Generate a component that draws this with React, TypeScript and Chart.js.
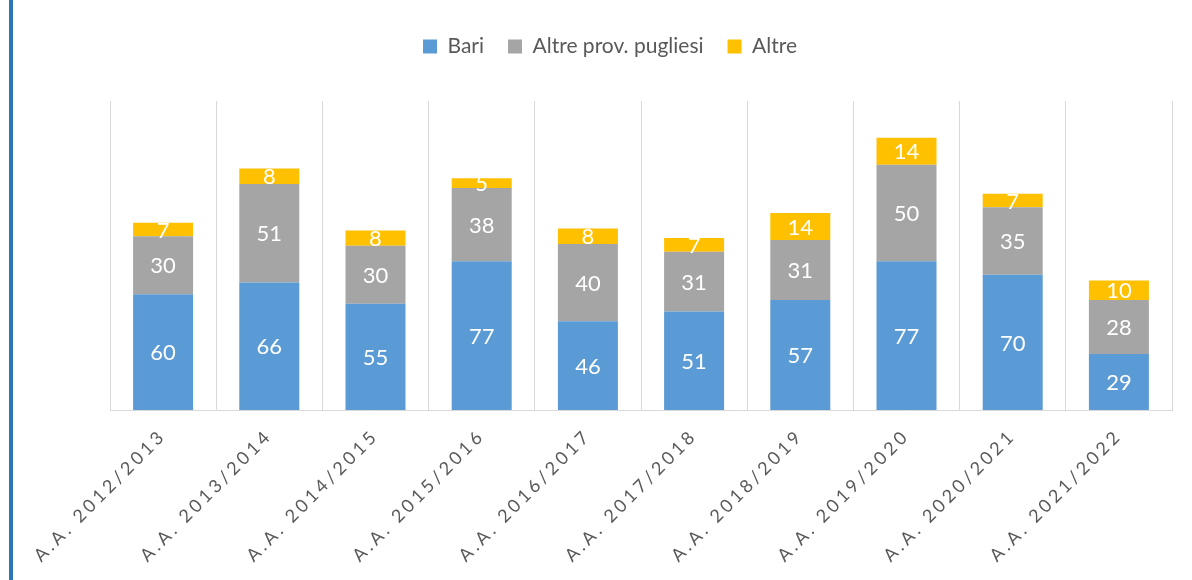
import React, { useEffect, useRef } from "react";
import { Chart, registerables, CategoryScale } from "chart.js";

Chart.register(...registerables);

class SpacedCategoryScale extends CategoryScale {
  static id = "spacedCategory";
  drawLabels(chartArea: any) {
    const ctx: any = this.ctx;
    ctx.save();
    ctx.letterSpacing = "3.5px";
    super.drawLabels(chartArea);
    ctx.restore();
  }
}
Chart.register(SpacedCategoryScale as any);

const categories = [
  "A.A. 2012/2013",
  "A.A. 2013/2014",
  "A.A. 2014/2015",
  "A.A. 2015/2016",
  "A.A. 2016/2017",
  "A.A. 2017/2018",
  "A.A. 2018/2019",
  "A.A. 2019/2020",
  "A.A. 2020/2021",
  "A.A. 2021/2022",
];
const bari = [60, 66, 55, 77, 46, 51, 57, 77, 70, 29];
const altreProvPugliesi = [30, 51, 30, 38, 40, 31, 31, 50, 35, 28];
const altre = [7, 8, 8, 5, 8, 7, 14, 14, 7, 10];
const seriesNames = ["Bari", "Altre prov. pugliesi", "Altre"];
const seriesColors = ["#5B9BD5", "#A5A5A5", "#FFC000"];

const FONT = "Lato, 'Open Sans', sans-serif";

const legendSpacer = {
  id: "legendSpacer",
  beforeInit(chart: any) {
    if (!chart.legend) return;
    const origFit = chart.legend.fit;
    chart.legend.fit = function () {
      origFit.bind(chart.legend)();
      this.height += 34;
    };
  },
  afterLayout(chart: any) {
    if (!chart.legend) return;
    chart.legend.left -= 31;
    chart.legend.right -= 31;
  },
};

const valueLabels = {
  id: "valueLabels",
  afterDatasetsDraw(chart: any) {
    const ctx = chart.ctx;
    ctx.save();
    ctx.font = `22px ${FONT}`;
    ctx.fillStyle = "#FFFFFF";
    ctx.textAlign = "center";
    ctx.textBaseline = "middle";
    chart.data.datasets.forEach((ds: any, di: number) => {
      const meta = chart.getDatasetMeta(di);
      meta.data.forEach((el: any, i: number) => {
        const { x, y, base } = el.getProps(["x", "y", "base"], true);
        ctx.fillText(String(ds.data[i]), x, (y + base) / 2 + 1);
      });
    });
    ctx.restore();
  },
};

export default function App() {
  const ref = useRef<HTMLCanvasElement | null>(null);
  useEffect(() => {
    document.body.style.margin = "0";
    const canvas = ref.current;
    if (!canvas) return;
    const chart = new Chart(canvas, {
      type: "bar",
      data: {
        labels: categories,
        datasets: [bari, altreProvPugliesi, altre].map((d, i) => ({
          label: seriesNames[i],
          data: d,
          backgroundColor: seriesColors[i],
          borderWidth: 0,
          categoryPercentage: 1,
          barPercentage: 0.565,
        })),
      },
      options: {
        responsive: false,
        animation: false,
        layout: { padding: { left: 110, right: 20, top: 12, bottom: 0 } },
        plugins: {
          legend: {
            position: "top",
            labels: {
              boxWidth: 14,
              boxHeight: 14,
              padding: 24,
              color: "#595959",
              font: { family: FONT, size: 21 },
            },
          },
          tooltip: { enabled: false },
        },
        scales: {
          x: {
            type: "spacedCategory" as any,
            stacked: true,
            offset: true,
            grid: {
              display: true,
              offset: true,
              color: "#D9D9D9",
              lineWidth: 1,
              drawTicks: false,
            },
            border: { display: true, color: "#D9D9D9", width: 1 },
            ticks: {
              minRotation: 45,
              maxRotation: 45,
              autoSkip: false,
              padding: 15,
              color: "#595959",
              font: { family: FONT, size: 18 },
            },
            afterFit(scale: any) {
              scale.height = 170;
            },
          } as any,
          y: {
            display: false,
            stacked: true,
            min: 0,
            max: 160,
          },
        },
      },
      plugins: [legendSpacer, valueLabels],
    });
    return () => chart.destroy();
  }, []);
  return (
    <div style={{ position: "relative", width: 1192, height: 580, background: "#fff" }}>
      <div
        style={{
          position: "absolute",
          left: 9,
          top: 0,
          width: 4,
          height: 580,
          background: "#2E75B6",
        }}
      />
      <canvas
        ref={ref}
        width={1192}
        height={580}
        style={{ position: "absolute", left: 0, top: 0, display: "block" }}
      />
    </div>
  );
}
